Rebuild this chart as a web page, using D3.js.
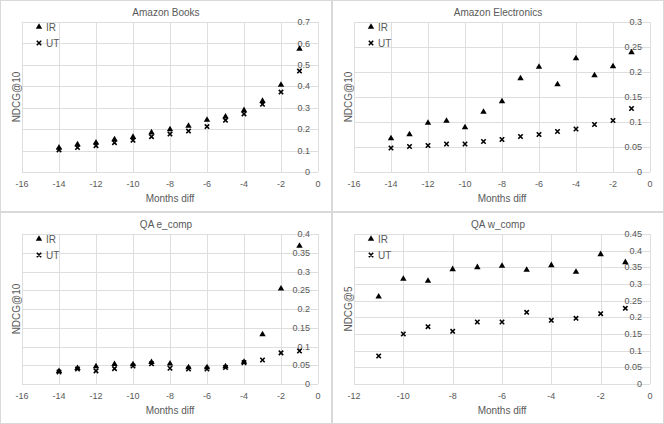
<!DOCTYPE html>
<meta charset="utf-8">
<html>
<head>
<script src="https://cdn.jsdelivr.net/npm/d3@7"></script>
<style>
  body { margin: 0; background: #fff; }
  text { font-family: "Liberation Sans", Arial, sans-serif; fill: #595959; }
</style>
</head>
<body>
<div id="charts"></div>
<script>
// data (x = months diff)
const booksMonths = [-14, -13, -12, -11, -10, -9, -8, -7, -6, -5, -4, -3, -2, -1];
const booksIR = [0.113, 0.129, 0.137, 0.152, 0.163, 0.184, 0.199, 0.215, 0.243, 0.258, 0.288, 0.331, 0.406, 0.574];
const booksUT = [0.103, 0.114, 0.123, 0.137, 0.148, 0.165, 0.177, 0.191, 0.212, 0.241, 0.271, 0.316, 0.373, 0.471];

const elecMonths = [-14, -13, -12, -11, -10, -9, -8, -7, -6, -5, -4, -3, -2, -1];
const elecIR = [0.067, 0.075, 0.098, 0.102, 0.089, 0.120, 0.141, 0.187, 0.210, 0.175, 0.227, 0.193, 0.211, 0.239];
const elecUT = [0.048, 0.051, 0.053, 0.056, 0.056, 0.061, 0.065, 0.071, 0.075, 0.081, 0.086, 0.095, 0.103, 0.127];

const ecompMonths = [-14, -13, -12, -11, -10, -9, -8, -7, -6, -5, -4, -3, -2, -1];
const ecompIR = [0.034, 0.042, 0.047, 0.053, 0.052, 0.058, 0.054, 0.044, 0.044, 0.047, 0.059, 0.132, 0.254, 0.368];
const ecompUT = [0.032, 0.040, 0.035, 0.041, 0.048, 0.054, 0.042, 0.040, 0.040, 0.044, 0.057, 0.064, 0.083, 0.088];

const wcompMonths = [-11, -10, -9, -8, -7, -6, -5, -4, -3, -2, -1];
const wcompIR = [0.262, 0.315, 0.309, 0.344, 0.350, 0.354, 0.342, 0.356, 0.336, 0.389, 0.365];
const wcompUT = [0.084, 0.150, 0.172, 0.158, 0.186, 0.186, 0.215, 0.191, 0.197, 0.211, 0.227];

const xTicksLong = [-16, -14, -12, -10, -8, -6, -4, -2, 0];
const xTicksShort = [-12, -10, -8, -6, -4, -2, 0];
const booksYTicks = [0, 0.1, 0.2, 0.3, 0.4, 0.5, 0.6, 0.7];
const elecYTicks = [0, 0.05, 0.1, 0.15, 0.2, 0.25, 0.3];
const ecompYTicks = [0, 0.05, 0.1, 0.15, 0.2, 0.25, 0.3, 0.35, 0.4];
const wcompYTicks = [0, 0.05, 0.1, 0.15, 0.2, 0.25, 0.3, 0.35, 0.4, 0.45];

const panels = [
  {title: "Amazon Books", ylabel: "NDCG@10", months: booksMonths, ir: booksIR, ut: booksUT, xt: xTicksLong, yt: booksYTicks},
  {title: "Amazon Electronics", ylabel: "NDCG@10", months: elecMonths, ir: elecIR, ut: elecUT, xt: xTicksLong, yt: elecYTicks},
  {title: "QA e_comp", ylabel: "NDCG@10", months: ecompMonths, ir: ecompIR, ut: ecompUT, xt: xTicksLong, yt: ecompYTicks},
  {title: "QA w_comp", ylabel: "NDCG@5", months: wcompMonths, ir: wcompIR, ut: wcompUT, xt: xTicksShort, yt: wcompYTicks}
];

const W = 664, H = 424;
const pw = 332, ph = 212;
const margin = {top: 22, right: 14, bottom: 40, left: 22},
    width = pw - margin.left - margin.right,
    height = ph - margin.top - margin.bottom;

const svg = d3.select("#charts")
  .append("svg")
    .attr("width", W)
    .attr("height", H);

const tri = d3.symbol().type(d3.symbolTriangle).size(18);

function cross(sel) {
  sel.append("path")
    .attr("d", "M-2.2,-2.2L2.2,2.2M-2.2,2.2L2.2,-2.2")
    .attr("stroke", "#000")
    .attr("stroke-width", 1.6)
    .attr("fill", "none");
}

panels.forEach((p, i) => {
  const px = (i % 2) * pw, py = Math.floor(i / 2) * ph;
  const panel = svg.append("g").attr("transform", `translate(${px},${py})`);

  // panel frame
  panel.append("rect")
    .attr("x", 0.5).attr("y", 0.5)
    .attr("width", pw - 1).attr("height", ph - 1)
    .attr("fill", "#fff").attr("stroke", "#d9d9d9");

  const g = panel.append("g").attr("transform", `translate(${margin.left},${margin.top})`);

  const x = d3.scaleLinear().domain(d3.extent(p.xt)).range([0, width]);
  const y = d3.scaleLinear().domain(d3.extent(p.yt)).range([height, 0]);

  // gridlines
  g.selectAll(".hg").data(p.yt).join("line")
    .attr("x1", 0).attr("x2", width)
    .attr("y1", d => Math.round(y(d)) + 0.5).attr("y2", d => Math.round(y(d)) + 0.5)
    .attr("stroke", "#dedede");
  g.selectAll(".vg").data(p.xt).join("line")
    .attr("y1", 0).attr("y2", height)
    .attr("x1", d => Math.round(x(d)) + 0.5).attr("x2", d => Math.round(x(d)) + 0.5)
    .attr("stroke", "#dedede");

  // y tick labels (axis sits at x = 0, labels inside the plot)
  g.selectAll(".yl").data(p.yt).join("text")
    .attr("x", width - 8).attr("y", d => y(d))
    .attr("dy", "0.35em")
    .attr("text-anchor", "end")
    .style("font-size", "9px")
    .text(d => d3.format("~g")(d));

  // x tick labels
  g.selectAll(".xl").data(p.xt).join("text")
    .attr("x", d => x(d)).attr("y", height + 12)
    .attr("dy", "0.35em")
    .attr("text-anchor", "middle")
    .style("font-size", "9px")
    .text(d => d);

  // titles
  panel.append("text")
    .attr("x", pw / 2).attr("y", 12).attr("dy", "0.35em")
    .attr("text-anchor", "middle")
    .style("font-size", "10px")
    .text(p.title);
  panel.append("text")
    .attr("x", margin.left + width / 2).attr("y", margin.top + height + 26).attr("dy", "0.35em")
    .attr("text-anchor", "middle")
    .style("font-size", "10px")
    .text("Months diff");
  panel.append("text")
    .attr("transform", `translate(16,${margin.top + height / 2}) rotate(-90)`)
    .attr("dy", "0.35em")
    .attr("text-anchor", "middle")
    .style("font-size", "10px")
    .text(p.ylabel);

  // markers
  const irData = p.months.map((m, k) => ({m: m, v: p.ir[k]}));
  const utData = p.months.map((m, k) => ({m: m, v: p.ut[k]}));

  g.selectAll(".ut").data(utData).join("g")
    .attr("transform", d => `translate(${x(d.m)},${y(d.v)})`)
    .call(cross);
  g.selectAll(".ir").data(irData).join("path")
    .attr("d", tri)
    .attr("transform", d => `translate(${x(d.m)},${y(d.v)})`)
    .attr("fill", "#000");

  // legend
  const lg = panel.append("g");
  lg.append("path").attr("d", tri).attr("fill", "#000")
    .attr("transform", "translate(39,27)");
  lg.append("text").attr("x", 46).attr("y", 27).attr("dy", "0.35em")
    .style("font-size", "10px").text("IR");
  lg.append("g").attr("transform", "translate(39,43)").call(cross);
  lg.append("text").attr("x", 46).attr("y", 43).attr("dy", "0.35em")
    .style("font-size", "10px").text("UT");
});
</script>
</body>
</html>
